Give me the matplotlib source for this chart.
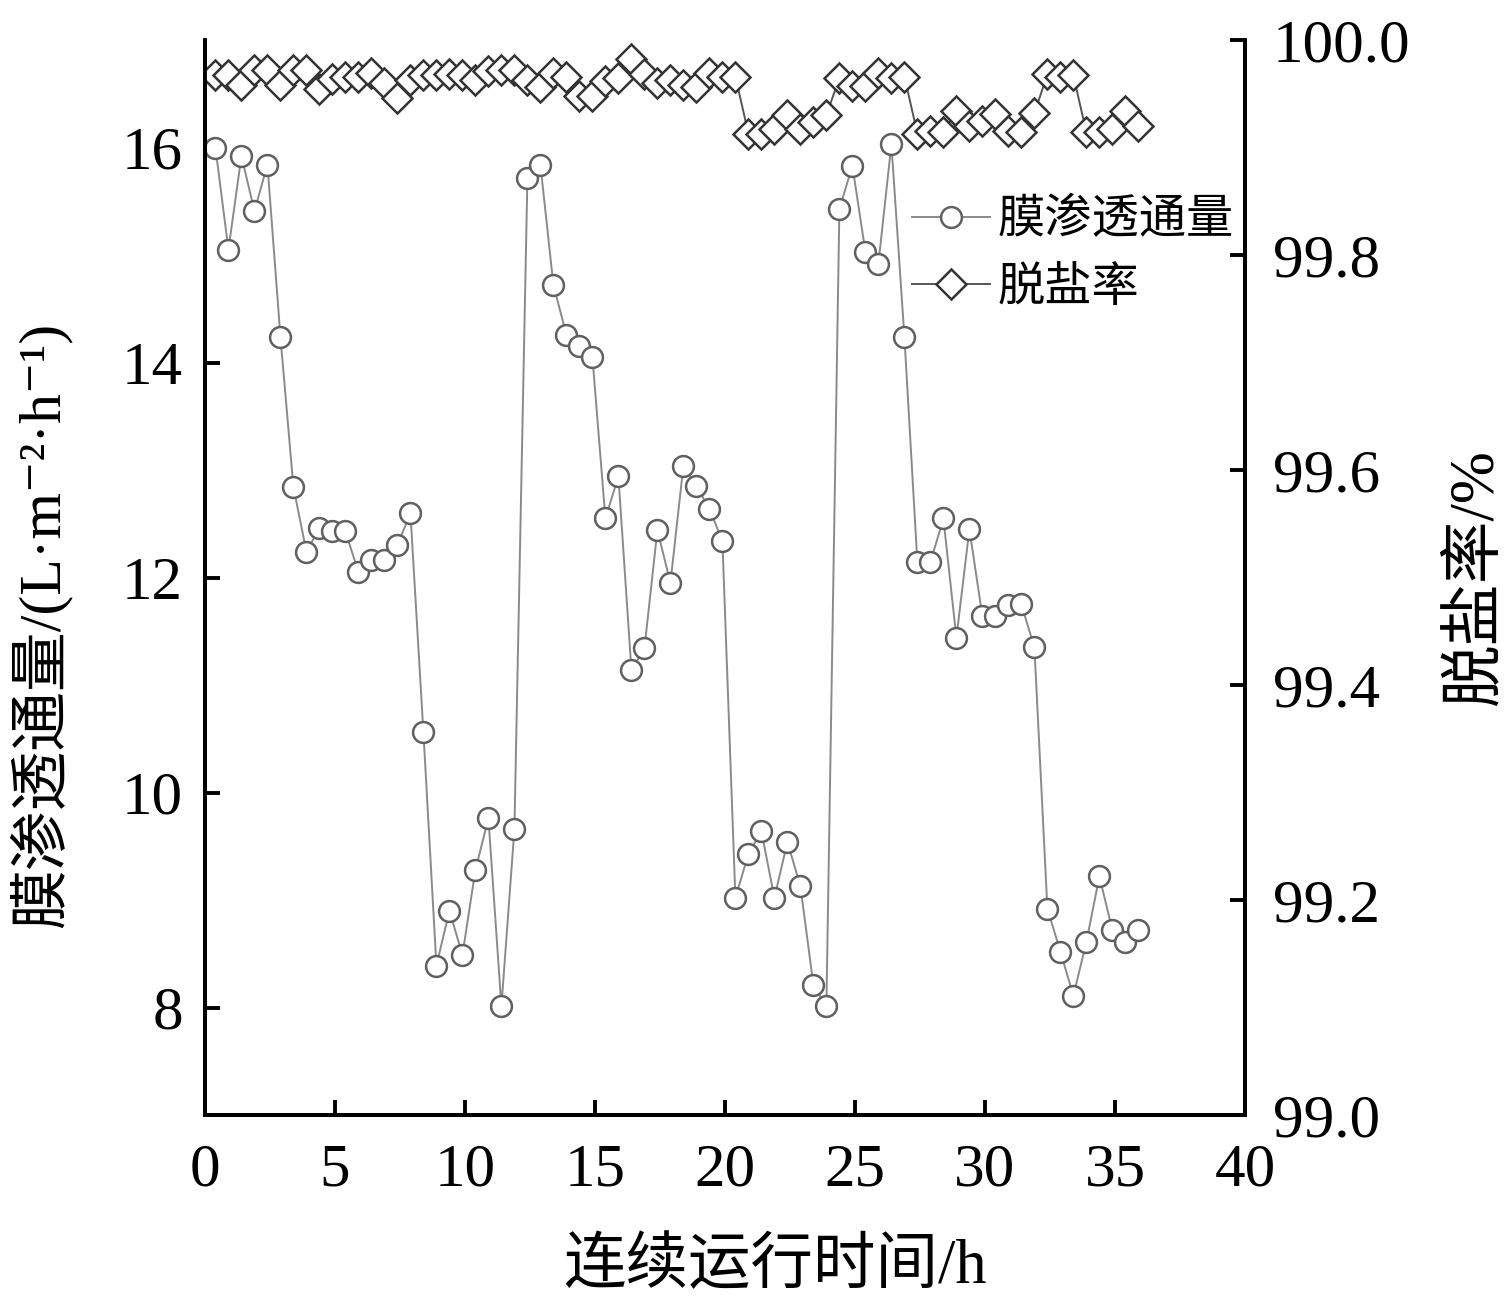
import numpy as np
import matplotlib
matplotlib.use('Agg')
import matplotlib.pyplot as plt

plt.rcParams['font.family'] = ['Liberation Serif', 'Noto Sans CJK SC', 'DejaVu Serif']

# 运行时间 /h
hours = [0.4, 0.9, 1.4, 1.9, 2.4, 2.9, 3.4, 3.9, 4.4, 4.9, 5.4, 5.9,
         6.4, 6.9, 7.4, 7.9, 8.4, 8.9, 9.4, 9.9, 10.4, 10.9, 11.4, 11.9,
         12.4, 12.9, 13.4, 13.9, 14.4, 14.9, 15.4, 15.9, 16.4, 16.9, 17.4, 17.9,
         18.4, 18.9, 19.4, 19.9, 20.4, 20.9, 21.4, 21.9, 22.4, 22.9, 23.4, 23.9,
         24.4, 24.9, 25.4, 25.9, 26.4, 26.9, 27.4, 27.9, 28.4, 28.9, 29.4, 29.9,
         30.4, 30.9, 31.4, 31.9, 32.4, 32.9, 33.4, 33.9, 34.4, 34.9, 35.4, 35.9]

# 膜渗透通量 L/(m2 h)
flux = [16.00, 15.05, 15.92, 15.41, 15.84, 14.24, 12.84, 12.24, 12.46, 12.43, 12.43, 12.05,
        12.16, 12.16, 12.30, 12.60, 10.56, 8.39, 8.90, 8.49, 9.28, 9.76, 8.01, 9.66,
        15.72, 15.84, 14.72, 14.26, 14.15, 14.05, 12.55, 12.94, 11.14, 11.34, 12.44, 11.95,
        13.04, 12.85, 12.64, 12.34, 9.02, 9.43, 9.64, 9.02, 9.54, 9.13, 8.21, 8.01,
        15.43, 15.83, 15.03, 14.92, 16.03, 14.24, 12.14, 12.14, 12.55, 11.44, 12.45, 11.64,
        11.64, 11.74, 11.75, 11.35, 8.92, 8.52, 8.11, 8.61, 9.22, 8.72, 8.61, 8.72]

# 脱盐率 %
rejection = [99.967, 99.967, 99.958, 99.972, 99.972, 99.958, 99.972, 99.972, 99.954, 99.964, 99.966, 99.966,
             99.969, 99.960, 99.946, 99.963, 99.967, 99.967, 99.968, 99.967, 99.963, 99.971, 99.972, 99.972,
             99.963, 99.956, 99.969, 99.966, 99.948, 99.948, 99.962, 99.965, 99.982, 99.968, 99.960, 99.963,
             99.958, 99.956, 99.969, 99.966, 99.966, 99.913, 99.913, 99.917, 99.930, 99.917, 99.924, 99.930,
             99.965, 99.957, 99.957, 99.969, 99.965, 99.966, 99.913, 99.915, 99.914, 99.934, 99.920, 99.925,
             99.931, 99.915, 99.914, 99.932, 99.968, 99.966, 99.967, 99.914, 99.914, 99.917, 99.934, 99.920]

fig = plt.figure(figsize=(15.12, 12.99), dpi=100)
ax = fig.add_axes([0.1356, 0.1416, 0.6878, 0.8276])
ax2 = ax.twinx()

l1, = ax.plot(hours, flux, color='#8a8a8a', lw=1.4, marker='o', ms=15,
              mfc='white', mec='#606060', mew=1.8, label='膜渗透通量')
l2, = ax2.plot(hours, rejection, color='#555555', lw=1.4, marker='D', ms=15.5,
               mfc='white', mec='#333333', mew=1.8, label='脱盐率')

ax.set_xlim(0, 40)
ax.set_ylim(7, 17)
ax2.set_ylim(99.0, 100.0)
ax.set_xticks(range(0, 41, 5))
ax.set_yticks([8, 10, 12, 14, 16])
ax2.set_yticks([99.0, 99.2, 99.4, 99.6, 99.8, 100.0])
ax2.set_yticklabels(['%.1f' % v for v in [99.0, 99.2, 99.4, 99.6, 99.8, 100.0]])

for a in (ax, ax2):
    a.spines['top'].set_visible(False)
    for s in ('left', 'right', 'bottom'):
        a.spines[s].set_linewidth(2.8)
ax.tick_params(axis='both', direction='in', length=11, width=2.8, labelsize=44, pad=16)
ax.tick_params(axis='x', pad=20)
ax2.tick_params(axis='y', direction='in', length=11, width=2.8, labelsize=44, pad=20)

ax.set_xlabel('连续运行时间/h', fontsize=45)
ax.xaxis.set_label_coords(0.548, -0.115)
ax.set_ylabel('膜渗透通量/(L·m\u207b\u00b2·h\u207b\u00b9)', fontsize=43)
ax.yaxis.set_label_coords(-0.128, 0.456)
ax2.set_ylabel('脱盐率/%', fontsize=45, labelpad=26, rotation=90)

ax2.legend(handles=[l1, l2], loc='upper left', bbox_to_anchor=(0.68, 0.852),
           frameon=False, fontsize=34, handlelength=1.65, handletextpad=0.15,
           labelspacing=0.5, borderpad=0, borderaxespad=0)

fig.savefig('out.png', dpi=100)
